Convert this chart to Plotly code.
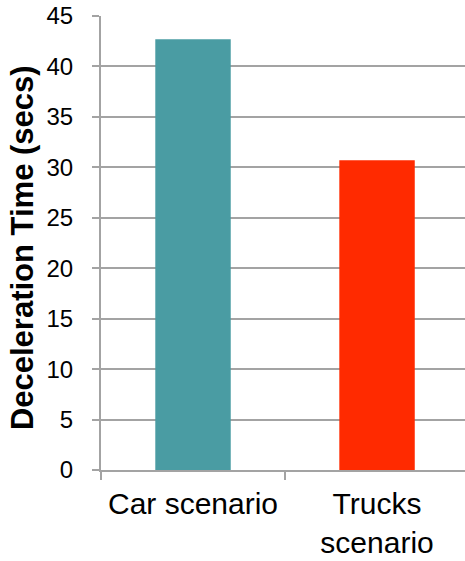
import plotly.graph_objects as go

categories = ["Car scenario", "Trucks<br>scenario"]
values = [42.7, 30.7]
colors = ["#4A9CA3", "#FF2A00"]
y_title = "Deceleration Time (secs)"

grid = "#A3A3A3"
font_family = "Arial, Liberation Sans, sans-serif"

fig = go.Figure(
    go.Bar(
        x=categories,
        y=values,
        marker=dict(color=colors, line=dict(width=0)),
        width=0.41,
        hoverinfo="skip",
    )
)

fig.update_layout(
    width=465,
    height=561,
    margin=dict(l=101, r=0, t=16, b=91),
    paper_bgcolor="white",
    plot_bgcolor="white",
    showlegend=False,
    font=dict(family=font_family, color="black"),
    annotations=[
        dict(
            text="<b>" + y_title + "</b>",
            xref="paper",
            yref="paper",
            x=-0.214,
            y=0.489,
            xanchor="center",
            yanchor="middle",
            textangle=-90,
            showarrow=False,
            font=dict(size=31, family=font_family, color="black"),
        )
    ],
)

fig.update_xaxes(
    range=[-0.5, 1.478],
    showline=True,
    linecolor=grid,
    linewidth=2,
    ticks="outside",
    tickson="boundaries",
    ticklen=8,
    tickwidth=2,
    tickcolor=grid,
    showgrid=False,
    tickangle=0,
    automargin=False,
    ticklabelstandoff=6,
    tickfont=dict(size=30, family=font_family, color="black"),
)

fig.update_yaxes(
    range=[0, 45],
    dtick=5,
    tick0=0,
    showline=True,
    linecolor=grid,
    linewidth=2,
    showgrid=True,
    gridcolor=grid,
    gridwidth=2,
    zeroline=False,
    ticks="outside",
    ticklen=7,
    tickwidth=2,
    tickcolor=grid,
    ticklabelstandoff=14,
    ticklabeloverflow="allow",
    tickfont=dict(size=24, family=font_family, color="black"),
    automargin=False,
)

fig.write_html(
    "out.html",
    config={"displayModeBar": False},
    post_script="document.body.style.margin='0';",
)
